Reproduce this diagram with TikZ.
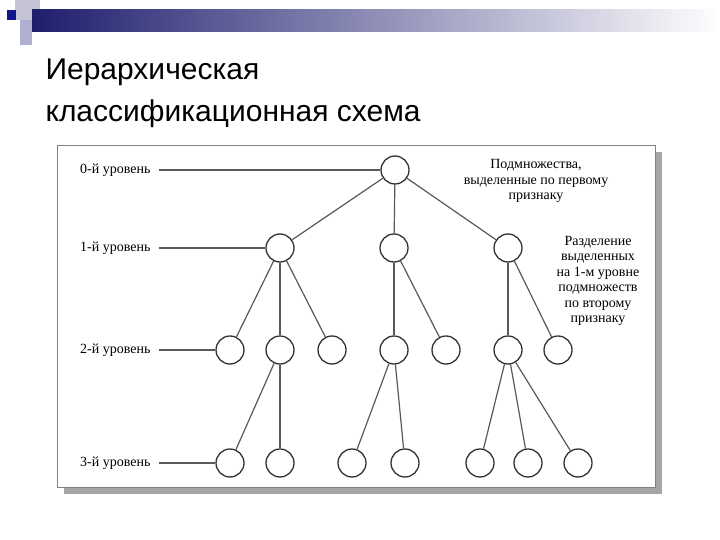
\documentclass[tikz,border=0pt]{standalone}
\usepackage{fontspec}
\setmainfont{Liberation Serif}
\newfontfamily\titlefont{Liberation Sans}
\definecolor{navy}{RGB}{30,30,110}
\definecolor{sqblue}{RGB}{20,20,140}
\begin{document}
\begin{tikzpicture}[x=1pt,y=-1pt,
  nd/.style={circle,draw=black!80,line width=1.3pt,minimum size=28pt,inner sep=0pt},
  lvl/.style={font=\fontsize{14}{16}\selectfont,anchor=west,inner sep=2pt},
  note/.style={font=\fontsize{14}{15.5}\selectfont,align=center},
  ln/.style={line width=1.2pt,draw=black!65}]
\useasboundingbox (0,0) rectangle (720,540);
\fill[white] (0,0) rectangle (720,540);
% decoration
\fill[blue!15!gray!40] (15,0) rectangle (40,20);
\fill[blue!25!gray!50] (20,20) rectangle (32,45);
\shade[left color=navy,right color=white] (32,10) rectangle (720,32);
\fill[sqblue] (7,10) rectangle (16,20);
% title
\node[anchor=west,font=\titlefont\fontsize{30}{42}\selectfont,align=left] (title) at (42,93) {Иерархическая\\классификационная схема};
% frame
\fill[black!35] (64,152) rectangle (662,494);
\draw[black!50,fill=white] (57,145) rectangle (655,487);
% nodes
\node[nd] (r) at (395,170) {};
\node[nd] (a) at (280,248) {};
\node[nd] (b) at (394,248) {};
\node[nd] (c) at (508,248) {};
\node[nd] (a1) at (230,350) {};
\node[nd] (a2) at (280,350) {};
\node[nd] (a3) at (332,350) {};
\node[nd] (b1) at (394,350) {};
\node[nd] (b2) at (446,350) {};
\node[nd] (c1) at (508,350) {};
\node[nd] (c2) at (558,350) {};
\node[nd] (d1) at (230,463) {};
\node[nd] (d2) at (280,463) {};
\node[nd] (e1) at (352,463) {};
\node[nd] (e2) at (405,463) {};
\node[nd] (f1) at (480,463) {};
\node[nd] (f2) at (528,463) {};
\node[nd] (f3) at (578,463) {};
\foreach \p/\q in {r/a,r/b,r/c,a/a1,a/a2,a/a3,b/b1,b/b2,c/c1,c/c2,a2/d1,a2/d2,b1/e1,b1/e2,c1/f1,c1/f2,c1/f3}
  \draw[ln] (\p) -- (\q);
% level labels
\node[lvl] (l0) at (78,170) {0-й уровень};
\node[lvl] (l1) at (78,248) {1-й уровень};
\node[lvl] (l2) at (78,350) {2-й уровень};
\node[lvl] (l3) at (78,463) {3-й уровень};
\draw[ln] (l0.east) ++(6,0) -- (r);
\draw[ln] (l1.east) ++(6,0) -- (a);
\draw[ln] (l2.east) ++(6,0) -- (a1);
\draw[ln] (l3.east) ++(6,0) -- (d1);
% notes
\node[note] (n1) at (536,181) {Подмножества,\\выделенные по первому\\признаку};
\node[note] (n2) at (598,281) {Разделение\\выделенных\\на 1-м уровне\\подмножеств\\по второму\\признаку};
\end{tikzpicture}
\end{document}
